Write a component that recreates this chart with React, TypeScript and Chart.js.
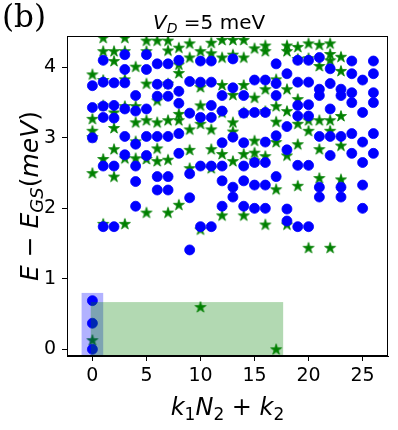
import React, { useEffect, useRef } from "react";
import { Chart, registerables } from "chart.js";

Chart.register(...registerables);

// k1*N2 + k2 values (x positions)
const kValues = [0, 1, 2, 3, 4, 5, 6, 7, 8, 9, 10, 11, 12, 13, 14, 15, 16, 17, 18, 19, 20, 21, 22, 23, 24, 25, 26];

// Blue circles: energies (meV) for each k
const blueEnergies: number[][] = [
  [0, 0.37, 0.69, 3.0, 3.43, 3.74],
  [1.74, 2.6, 3.29, 3.45, 3.79, 4.1],
  [1.74, 2.6, 3.28, 3.46, 3.78],
  [2.76, 3.02, 3.41, 3.78, 3.97, 4.18],
  [2.03, 2.38, 2.6, 2.91, 3.38, 3.6],
  [2.75, 3.02, 3.41, 3.97, 4.18],
  [2.26, 2.45, 3.02, 3.59, 3.76, 4.05],
  [2.26, 2.45, 3.02, 3.59, 3.76, 4.05],
  [2.78, 3.06, 3.49, 3.66, 4.1],
  [1.41, 2.15, 2.49, 3.35, 3.8],
  [1.74, 2.6, 3.29, 3.79, 4.09],
  [1.74, 2.6, 3.29, 3.46, 3.79, 4.09],
  [2.03, 2.39, 2.6, 2.93, 3.38, 3.6],
  [2.16, 2.3, 3.01, 3.71, 4.12],
  [2.03, 2.39, 2.6, 2.93, 3.35, 3.6],
  [2.0, 2.33, 2.65, 3.36, 3.82],
  [2.0, 2.33, 2.65, 2.94, 3.36, 3.82],
  [2.45, 3.03, 3.6, 3.77, 4.05],
  [1.82, 1.99, 2.83, 3.16, 3.91],
  [1.74, 2.61, 3.31, 3.46, 3.79, 4.1],
  [1.74, 2.61, 3.31, 3.47, 3.79, 4.1],
  [2.16, 2.3, 3.02, 3.6, 3.69, 4.14],
  [2.75, 3.02, 3.41, 3.77, 3.98],
  [2.16, 2.3, 3.02, 3.6, 3.69],
  [2.78, 3.06, 3.5, 3.64, 3.91, 4.09],
  [2.0, 2.33, 2.65, 2.94, 3.36, 3.82],
  [2.78, 3.06, 3.5, 3.64, 3.91, 4.09],
];

// Green stars: energies (meV) for each k
const greenEnergies: number[][] = [
  [0.13, 2.5, 3.01, 3.1, 3.27, 3.9],
  [1.78, 2.7, 3.46, 3.82, 4.23, 4.42],
  [2.45, 2.84, 3.14, 3.36, 4.09, 4.23],
  [1.78, 2.71, 3.45, 3.83, 4.23, 4.42],
  [2.71, 2.95, 3.22, 3.45, 4.01],
  [1.94, 2.7, 3.25, 3.77, 4.23, 4.38],
  [2.67, 2.85, 3.22, 3.53, 4.38],
  [1.94, 2.69, 3.25, 3.77, 4.24, 4.38],
  [2.05, 3.25, 3.34, 3.92, 4.04, 4.28],
  [2.57, 2.83, 3.12, 4.14, 4.34],
  [0.6, 1.7, 3.2, 3.46, 3.72, 4.23],
  [2.57, 2.84, 3.12, 4.2, 4.35],
  [1.9, 2.77, 3.36, 3.75, 4.14, 4.39],
  [2.67, 3.09, 3.22, 3.61, 4.18, 4.39],
  [1.9, 2.77, 3.36, 3.75, 4.14, 4.39],
  [2.68, 2.79, 2.96, 3.57, 4.27],
  [1.77, 2.74, 3.38, 3.69, 4.23, 4.31],
  [0.0, 2.27, 2.94, 3.23, 3.45, 3.83],
  [1.77, 2.75, 3.38, 3.69, 4.23, 4.31],
  [2.32, 2.91, 3.2, 3.55, 4.12, 4.29],
  [1.44, 3.1, 3.25, 4.13, 4.34],
  [2.43, 2.84, 3.25, 4.02, 4.32],
  [1.44, 3.1, 3.25, 4.1, 4.19, 4.34],
  [2.41, 2.89, 3.31, 3.95, 4.15],
];

// Shaded regions (data coordinates)
const blueSpanX = [-1, 1];
const blueSpanY = [-0.1, 0.8];
const greenSpanX = [-0.15, 17.65];
const greenSpanY = [-0.1, 0.67];

// Axis ranges and ticks
const xRange = [-2.35, 27.35];
const yRange = [-0.095, 4.445];
const xTicks = [0, 5, 10, 15, 20, 25];
const yTicks = [0, 1, 2, 3, 4];

const SANS = '"DejaVu Sans"';

function toPoints(levels: number[][]) {
  const pts: { x: number; y: number }[] = [];
  levels.forEach((list, i) => list.forEach((e) => pts.push({ x: kValues[i], y: e })));
  return pts;
}

function makeStar(): HTMLCanvasElement {
  const c = document.createElement("canvas");
  const s = 14;
  c.width = s;
  c.height = s;
  const g = c.getContext("2d")!;
  const cx = s / 2, cy = s / 2 + 0.4;
  const R = 5.8, r = R * 0.382;
  g.beginPath();
  for (let i = 0; i < 10; i++) {
    const ang = -Math.PI / 2 + (i * Math.PI) / 5;
    const rad = i % 2 === 0 ? R : r;
    const px = cx + rad * Math.cos(ang);
    const py = cy + rad * Math.sin(ang);
    if (i === 0) g.moveTo(px, py);
    else g.lineTo(px, py);
  }
  g.closePath();
  g.fillStyle = "#008000";
  g.strokeStyle = "#008000";
  g.lineWidth = 0.8;
  g.lineJoin = "miter";
  g.fill();
  g.stroke();
  return c;
}

type Part = { t: string; font: string; dy?: number };

function drawParts(ctx: CanvasRenderingContext2D, parts: Part[], x: number, y: number, align: "left" | "center") {
  let w = 0;
  for (const p of parts) {
    ctx.font = p.font;
    w += ctx.measureText(p.t).width;
  }
  let cx = align === "center" ? x - w / 2 : x;
  ctx.textAlign = "left";
  ctx.textBaseline = "alphabetic";
  for (const p of parts) {
    ctx.font = p.font;
    ctx.fillText(p.t, cx, y + (p.dy || 0));
    cx += ctx.measureText(p.t).width;
  }
}

const overlayPlugin = {
  id: "overlay",
  afterDatasetsDraw(chart: any) {
    const { ctx, chartArea, scales } = chart;
    const x = scales.x, y = scales.y;
    ctx.save();
    ctx.beginPath();
    ctx.rect(chartArea.left, chartArea.top, chartArea.right - chartArea.left, chartArea.bottom - chartArea.top);
    ctx.clip();
    const rect = (xs: number[], ys: number[], color: string) => {
      const x0 = x.getPixelForValue(xs[0]);
      const x1 = x.getPixelForValue(xs[1]);
      const y0 = y.getPixelForValue(ys[0]);
      const y1 = y.getPixelForValue(ys[1]);
      ctx.fillStyle = color;
      ctx.fillRect(Math.min(x0, x1), Math.min(y0, y1), Math.abs(x1 - x0), Math.abs(y1 - y0));
    };
    rect(blueSpanX, blueSpanY, "rgba(0,0,255,0.3)");
    rect(greenSpanX, greenSpanY, "rgba(0,128,0,0.3)");
    ctx.restore();
  },
  afterDraw(chart: any) {
    const { ctx, chartArea } = chart;
    ctx.save();
    // frame
    ctx.strokeStyle = "#000";
    ctx.lineWidth = 1;
    ctx.strokeRect(
      Math.round(chartArea.left) + 0.5,
      Math.round(chartArea.top) + 0.5,
      Math.round(chartArea.right - chartArea.left) - 1,
      Math.round(chartArea.bottom - chartArea.top) - 1
    );
    ctx.fillStyle = "#000";
    // panel label
    drawParts(ctx, [{ t: "(b)", font: '31px "DejaVu Serif"' }], 2, 27, "left");
    // title
    drawParts(
      ctx,
      [
        { t: "V", font: `italic 20px ${SANS}` },
        { t: "D", font: `italic 14px ${SANS}`, dy: 4 },
        { t: " =5 meV", font: `20px ${SANS}` },
      ],
      153,
      28.5,
      "left"
    );
    // x label
    const cxm = (chartArea.left + chartArea.right) / 2;
    drawParts(
      ctx,
      [
        { t: "k", font: `italic 24px ${SANS}` },
        { t: "1", font: `17px ${SANS}`, dy: 5 },
        { t: "N", font: `italic 24px ${SANS}` },
        { t: "2", font: `17px ${SANS}`, dy: 5 },
        { t: " + ", font: `24px ${SANS}` },
        { t: "k", font: `italic 24px ${SANS}` },
        { t: "2", font: `17px ${SANS}`, dy: 5 },
      ],
      cxm,
      415,
      "center"
    );
    // y label
    const cym = (chartArea.top + chartArea.bottom) / 2;
    ctx.translate(38, cym);
    ctx.rotate(-Math.PI / 2);
    drawParts(
      ctx,
      [
        { t: "E", font: `italic 25px ${SANS}` },
        { t: " \u2212 ", font: `25px ${SANS}` },
        { t: "E", font: `italic 25px ${SANS}` },
        { t: "GS", font: `italic 18px ${SANS}`, dy: 5 },
        { t: "(", font: `25px ${SANS}` },
        { t: "meV", font: `italic 25px ${SANS}` },
        { t: ")", font: `25px ${SANS}` },
      ],
      0,
      0,
      "center"
    );
    ctx.restore();
  },
};

export default function App() {
  const ref = useRef<HTMLCanvasElement | null>(null);
  useEffect(() => {
    if (!ref.current) return;
    const star = makeStar();
    const chart = new Chart(ref.current, {
      type: "scatter",
      data: {
        datasets: [
          {
            label: "blue",
            data: toPoints(blueEnergies),
            pointStyle: "circle",
            pointRadius: 5,
            pointHoverRadius: 5,
            backgroundColor: "#0000ff",
            borderColor: "#0000ff",
            borderWidth: 0.8,
          },
          {
            label: "green",
            data: toPoints(greenEnergies),
            pointStyle: star as any,
            pointRadius: 6,
            pointHoverRadius: 6,
            backgroundColor: "#008000",
            borderColor: "#008000",
          },
        ],
      },
      options: {
        animation: false,
        responsive: false,
        maintainAspectRatio: false,
        events: [],
        layout: { padding: { left: 0, top: 36, right: 10, bottom: 0 } },
        plugins: {
          legend: { display: false },
          tooltip: { enabled: false },
          title: { display: false },
        },
        scales: {
          x: {
            type: "linear",
            min: xRange[0],
            max: xRange[1],
            afterBuildTicks: (s: any) => {
              s.ticks = xTicks.map((v) => ({ value: v }));
            },
            afterFit: (s: any) => {
              s.height = 74;
            },
            grid: { drawOnChartArea: false, drawTicks: true, tickLength: 5, tickColor: "#000", color: "#000" },
            border: { display: true, color: "#000", width: 1 },
            ticks: {
              color: "#000",
              padding: 4,
              maxRotation: 0,
              autoSkip: false,
              font: { family: "DejaVu Sans", size: 19 },
            },
          },
          y: {
            type: "linear",
            min: yRange[0],
            max: yRange[1],
            afterBuildTicks: (s: any) => {
              s.ticks = yTicks.map((v) => ({ value: v }));
            },
            afterFit: (s: any) => {
              s.width = 67;
            },
            grid: { drawOnChartArea: false, drawTicks: true, tickLength: 5, tickColor: "#000", color: "#000" },
            border: { display: true, color: "#000", width: 1 },
            ticks: {
              color: "#000",
              padding: 6,
              autoSkip: false,
              font: { family: "DejaVu Sans", size: 19 },
            },
          },
        },
      },
      plugins: [overlayPlugin],
    });
    return () => chart.destroy();
  }, []);
  return (
    <canvas
      ref={ref}
      width={398}
      height={430}
      style={{ position: "absolute", left: 0, top: 0, width: 398, height: 430 }}
    />
  );
}
